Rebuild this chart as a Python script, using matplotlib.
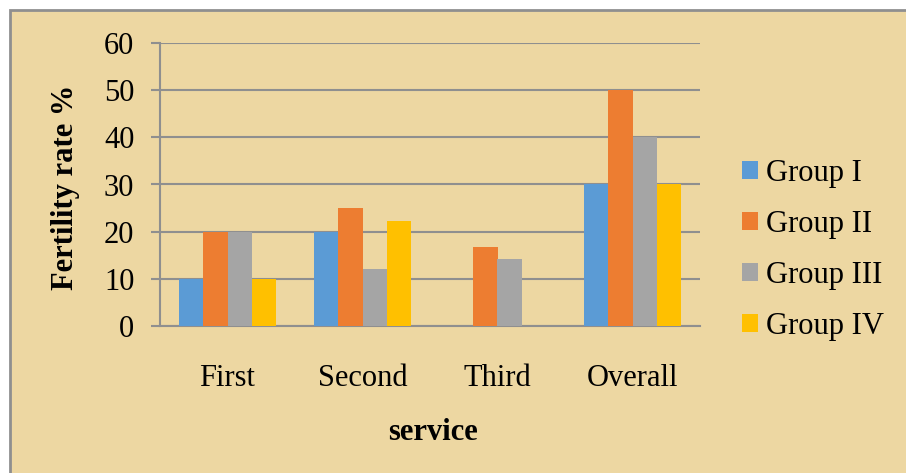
import matplotlib
matplotlib.use("Agg")
import matplotlib.pyplot as plt
from matplotlib.patches import Rectangle
import numpy as np

categories = ["First", "Second", "Third", "Overall"]
series_names = ["Group I", "Group II", "Group III", "Group IV"]
group1 = [10, 20, 0, 30]
group2 = [20, 25, 16.67, 50]
group3 = [20, 12, 14.29, 40]
group4 = [10, 22.2, 0, 30]
colors = ["#5B9BD5", "#ED7D31", "#A5A5A5", "#FFC000"]
yticks = [0, 10, 20, 30, 40, 50, 60]

plt.rcParams["font.family"] = ["Liberation Serif", "DejaVu Serif"]

W, H = 906, 473
fig = plt.figure(figsize=(W / 100, H / 100), dpi=100)
fig.patch.set_facecolor("white")

bg = Rectangle((10 / W, -0.01), 1.0, 1 - 10 / H + 0.01, transform=fig.transFigure,
               facecolor="#EDD7A2", edgecolor="#8f8f8f", linewidth=2, zorder=-5)
fig.patches.append(bg)

ax = fig.add_axes([160 / W, 1 - 326 / H, (700 - 160) / W, (326 - 43) / H])
ax.set_facecolor("none")
ax.set_zorder(1)

x = np.arange(len(categories))
bw = 0.18
all_series = [group1, group2, group3, group4]
for i, (vals, name, c) in enumerate(zip(all_series, series_names, colors)):
    ax.bar(x + (i - 1.5) * bw, vals, width=bw, color=c, label=name, zorder=3)

ax.set_xlim(-0.5, len(categories) - 0.5)
ax.set_ylim(0, 60)
ax.set_yticks(yticks)
ax.set_yticklabels([str(t) for t in yticks], fontsize=22)
ax.set_xticks(x)
ax.set_xticklabels(categories, fontsize=22)
ax.tick_params(axis="x", length=0, pad=27)
ax.tick_params(axis="y", length=6.5, width=1.5, color="#8f8f8f", pad=12)
ax.grid(axis="y", color="#8f8f8f", linewidth=1.5, zorder=1)
ax.set_axisbelow(True)
for s in ["top", "right"]:
    ax.spines[s].set_visible(False)
for s in ["left", "bottom"]:
    ax.spines[s].set_color("#8f8f8f")
    ax.spines[s].set_linewidth(1.5)

fig.text(65 / W, 1 - 187 / H, "Fertility rate %", rotation=90, fontsize=22,
         fontweight="bold", ha="center", va="center")
fig.text(433 / W, 1 - 432 / H, "service", fontsize=22, fontweight="bold",
         ha="center", va="center")

leg = fig.legend(loc="upper left", bbox_to_anchor=(742 / W, 1 - 159 / H),
                 frameon=False, fontsize=22, handlelength=0.52, handleheight=0.52,
                 handletextpad=0.26, labelspacing=0.72, borderaxespad=0,
                 borderpad=0)

fig.savefig("out.png", dpi=100)
